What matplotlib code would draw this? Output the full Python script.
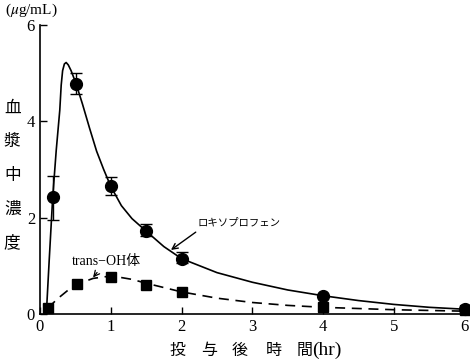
import matplotlib.pyplot as plt

plt.rcParams['font.family'] = ['Liberation Serif', 'Noto Sans CJK JP']
plt.rcParams['mathtext.fontset'] = 'stix'

# measured points
t_lox = [0.18, 0.51, 1.0, 1.5, 2.0, 4.0, 6.0]
c_lox = [2.42, 4.78, 2.65, 1.72, 1.15, 0.38, 0.10]
err_lo = [0.46, 0.22, 0.17, 0.10, 0.10, 0, 0]
err_hi = [0.44, 0.23, 0.20, 0.15, 0.13, 0, 0]

t_oh = [0.11, 0.53, 1.0, 1.5, 2.0, 4.0, 6.0]
c_oh = [0.12, 0.62, 0.77, 0.60, 0.45, 0.14, 0.08]

# fitted curves
fit_lox_t = [0.09, 0.13, 0.18, 0.23, 0.28, 0.30, 0.32, 0.345, 0.37, 0.40, 0.44, 0.51, 0.6, 0.7,
             0.8, 0.9, 1.0, 1.15, 1.3, 1.5, 1.75, 2.0, 2.5, 3.0, 3.5, 4.0, 4.5, 5.0, 5.5, 6.0]
fit_lox_c = [0.0, 1.1, 2.42, 3.4, 4.23, 4.75, 5.05, 5.19, 5.22, 5.17, 5.05, 4.78, 4.36, 3.86,
             3.38, 3.0, 2.65, 2.25, 1.98, 1.72, 1.40, 1.15, 0.86, 0.66, 0.50, 0.38, 0.28, 0.20,
             0.14, 0.10]
fit_oh_t = [0.11, 0.25, 0.4, 0.53, 0.75, 0.95, 1.1, 1.3, 1.5, 1.75, 2.0, 2.5, 3.0, 3.5, 4.0, 5.0, 6.0]
fit_oh_c = [0.12, 0.32, 0.50, 0.62, 0.74, 0.78, 0.77, 0.72, 0.64, 0.55, 0.46, 0.33, 0.24, 0.18, 0.14, 0.09, 0.06]

fig = plt.figure(figsize=(4.7, 3.61), dpi=100)
ax = fig.add_axes([0.085, 0.130, 0.904, 0.801])

ax.plot(fit_lox_t, fit_lox_c, color='black', lw=1.2, clip_on=False)
ax.plot(fit_oh_t, fit_oh_c, color='black', lw=1.2, ls=(0, (6, 4)), clip_on=False)
ax.errorbar(t_lox, c_lox, yerr=[err_lo, err_hi], fmt='o', color='black', ms=8.5,
            capsize=4, elinewidth=1, capthick=1, clip_on=False, zorder=5)
ax.plot(t_oh, c_oh, 's', color='black', ms=6.5, clip_on=False, zorder=5)

ax.text(2.22, 1.91, 'ロキソプロフェン', fontsize=7.5, va='center',
        family=['Noto Sans CJK JP'])
ax.annotate('', xy=(1.85, 1.33), xytext=(2.2, 1.7),
            arrowprops=dict(arrowstyle='->', color='black', lw=1, shrinkA=0, shrinkB=0))
ax.annotate('trans\u2212OH体', xy=(0.75, 0.76), xytext=(0.45, 1.1),
            fontsize=10, va='center',
            arrowprops=dict(arrowstyle='->', color='black', lw=0.9, shrinkA=2, shrinkB=0))

ax.set_xlim(0, 6)
ax.set_ylim(0, 6)
ax.set_xticks([0, 1, 2, 3, 4, 5, 6])
ax.set_yticks([0, 2, 4, 6])
ax.tick_params(direction='in', length=5, labelsize=12, width=1)
ax.spines['top'].set_visible(False)
ax.spines['right'].set_visible(False)
for s in ('left', 'bottom'):
    ax.spines[s].set_linewidth(1.2)

fig.text(0.01, 0.972, '($\\mu$g/mL)', fontsize=11, ha='left', va='center')
for i, ch in enumerate('血漿中濃度'):
    fig.text(0.026, 0.70 - i * 0.093, ch, fontsize=12, ha='center', va='center',
             family=['Noto Sans CJK JP'])
xlab_chars = ['投', '与', '後', '時', '間']
xlab_pos = [177, 209, 240, 274, 305]
for ch, px in zip(xlab_chars, xlab_pos):
    fig.text(px / 470, 0.03, ch, fontsize=11.5, ha='center', va='center',
             family=['Noto Sans CJK JP'])
fig.text(312 / 470, 0.03, '(hr)', fontsize=14, ha='left', va='center')

fig.savefig('out.png', dpi=100)
